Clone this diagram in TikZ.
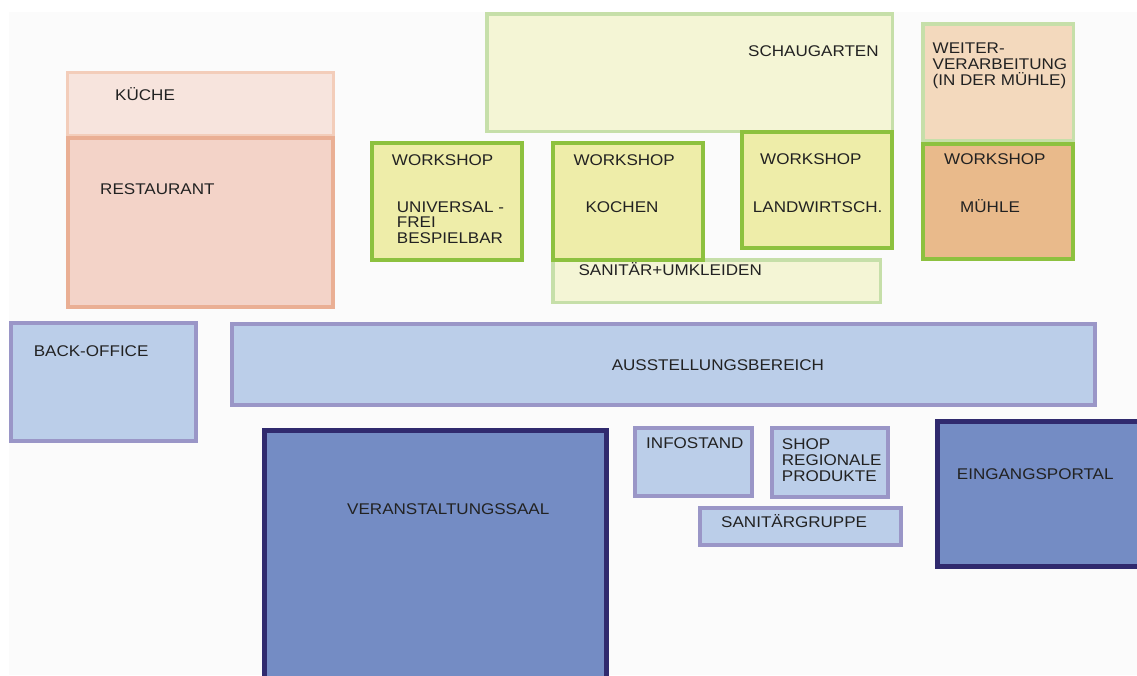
\documentclass[tikz,border=0pt]{standalone}
\usepackage{fontspec}
\setmainfont{Liberation Sans}[FakeStretch=1.1]
\definecolor{txt}{HTML}{222222}
\definecolor{bgpanel}{HTML}{FBFBFB}
\definecolor{kuecheS}{HTML}{F3CDBA}
\definecolor{kuecheF}{HTML}{F7E4DD}
\definecolor{restS}{HTML}{EAAF94}
\definecolor{restF}{HTML}{F3D3C8}
\definecolor{lgreenS}{HTML}{C6DFA9}
\definecolor{lgreenF}{HTML}{F4F5D5}
\definecolor{weiterF}{HTML}{F3D9BD}
\definecolor{greenS}{HTML}{8DC13F}
\definecolor{wsF}{HTML}{EEEDA9}
\definecolor{muehleF}{HTML}{E9BA8B}
\definecolor{lavS}{HTML}{9A96C7}
\definecolor{lblueF}{HTML}{BBCEE9}
\definecolor{navyS}{HTML}{302A6E}
\definecolor{blueF}{HTML}{748CC4}
\newcommand\myroom[7]{%
  \path[draw=#6,fill=#7,line width=#5pt] ({#1+#5/2},{#2+#5/2}) rectangle ({#3-#5/2},{#4-#5/2});}
\tikzset{
  lbl/.style={font=\fontsize{15.5}{16}\selectfont, text=txt, inner sep=0pt, anchor=base west, align=left}
}
\begin{document}
\begin{tikzpicture}[x=1pt,y=-1pt]
\useasboundingbox (0,0) rectangle (1137,675);
\fill[white] (0,0) rectangle (1137,675);
\fill[bgpanel] (9,12) rectangle (1137,675);
% top-left
\myroom{66}{71}{335}{137}{3}{kuecheS}{kuecheF}
\myroom{66}{136}{335}{309}{4}{restS}{restF}
% green area
\myroom{485}{12}{894}{133}{3.5}{lgreenS}{lgreenF}
\myroom{921}{22}{1075}{142}{3.5}{lgreenS}{weiterF}
\myroom{551}{258}{882}{304}{3.5}{lgreenS}{lgreenF}
\myroom{370}{141}{524}{262}{4}{greenS}{wsF}
\myroom{551}{141}{705}{262}{4}{greenS}{wsF}
\myroom{740}{130}{894}{250}{4}{greenS}{wsF}
\myroom{921}{142}{1075}{261}{4}{greenS}{muehleF}
% blue area
\myroom{9}{321}{198}{443}{4}{lavS}{lblueF}
\myroom{230}{322}{1097}{407}{4}{lavS}{lblueF}
\myroom{262}{428}{609}{690}{5}{navyS}{blueF}
\myroom{633}{426}{754}{498}{4}{lavS}{lblueF}
\myroom{770}{426}{890}{499}{4}{lavS}{lblueF}
\myroom{698}{506}{903}{547}{4}{lavS}{lblueF}
\myroom{935}{419}{1150}{569}{5}{navyS}{blueF}
% labels
\node[lbl] (kueche) at (115,100) {KÜCHE};
\node[lbl] (restaurant) at (100,194) {RESTAURANT};
\node[lbl] (schaugarten) at (748,56.7) {SCHAUGARTEN};
\node[lbl] (weiter) at (932.5,85.7) {WEITER-\\VERARBEITUNG\\(IN DER MÜHLE)};
\node[lbl] (ws1) at (391.7,165) {WORKSHOP};
\node[lbl, font=\fontsize{15.5}{15.3}\selectfont] (univ) at (396.7,243.2) {UNIVERSAL -\\FREI\\BESPIELBAR};
\node[lbl] (ws2) at (573.3,165) {WORKSHOP};
\node[lbl] (kochen) at (585.3,212.7) {KOCHEN};
\node[lbl] (ws3) at (760,164) {WORKSHOP};
\node[lbl] (landw) at (752.7,212.7) {LANDWIRTSCH.};
\node[lbl] (ws4) at (944,164) {WORKSHOP};
\node[lbl] (muehle) at (960,212.7) {MÜHLE};
\node[lbl] (sanumk) at (578.3,275) {SANITÄR+UMKLEIDEN};
\node[lbl] (backoffice) at (33.6,356) {BACK-OFFICE};
\node[lbl] (ausstellung) at (611.6,370) {AUSSTELLUNGSBEREICH};
\node[lbl] (saal) at (347,514) {VERANSTALTUNGSSAAL};
\node[lbl] (info) at (646,448.3) {INFOSTAND};
\node[lbl] (shop) at (781.7,481.3) {SHOP\\REGIONALE\\PRODUKTE};
\node[lbl] (sangr) at (721,527.3) {SANITÄRGRUPPE};
\node[lbl] (eingang) at (956.7,479.3) {EINGANGSPORTAL};
\end{tikzpicture}
\end{document}
